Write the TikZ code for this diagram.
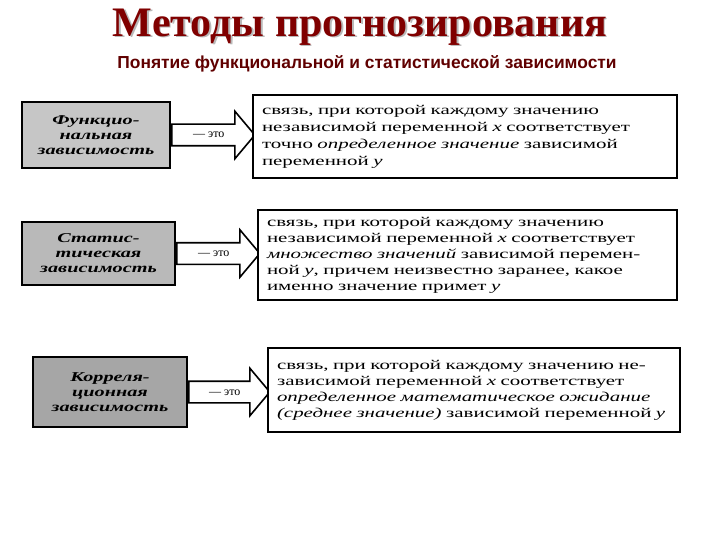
\documentclass[tikz,border=0pt]{standalone}
\usepackage{fontspec}
\usepackage{tikz}
\usetikzlibrary{shapes.arrows}
\setmainfont{Liberation Serif}
\newfontfamily\subfont{Liberation Sans}
\newfontfamily\boxfont[FakeStretch=1.55]{Liberation Serif}
\newfontfamily\kindfont[FakeStretch=1.5]{Liberation Serif}
\definecolor{titlered}{RGB}{128,0,0}
\definecolor{subred}{RGB}{96,0,0}
\tikzset{
  kindbox/.style={draw=black,line width=2pt,align=center,inner sep=0pt,
    font=\kindfont\bfseries\itshape\fontsize{13.5}{15}\selectfont},
  defbox/.style={draw=black,line width=1.4pt,fill=white,align=left,inner xsep=9pt,
    font=\boxfont\fontsize{13.5}{16}\selectfont},
  etoarrow/.style={single arrow,draw=black,line width=1.6pt,fill=white,anchor=west,
    single arrow head extend=13pt,single arrow tip angle=100,
    inner xsep=2pt,inner ysep=7pt,text height=6pt,text depth=0pt,
    font=\fontsize{12}{12}\selectfont}
}
\begin{document}
\begin{tikzpicture}[x=1pt,y=1pt]
\useasboundingbox (0,0) rectangle (720,-540);
% heading:
\node[text=gray!55,font=\bfseries\fontsize{42}{42}\selectfont] (titleshadow) at (361.5,-28.5) {Методы прогнозирования};
\node[text=titlered,font=\bfseries\fontsize{42}{42}\selectfont] (title) at (360,-27) {Методы прогнозирования};
\node[text=subred,font=\subfont\bfseries\fontsize{17.4}{17.4}\selectfont] (subtitle) at (367,-64) {Понятие функциональной и статистической зависимости};
% kinds of dependence:
\node[kindbox,fill=gray!45,minimum width=148pt,minimum height=66pt] (func) at (96,-135) {Функцио-\\нальная\\зависимость};
\node[kindbox,fill=gray!55,minimum width=153pt,minimum height=63pt] (stat) at (98.5,-253.5) {Статис-\\тическая\\зависимость};
\node[kindbox,fill=gray!70,minimum width=154pt,minimum height=70pt] (corr) at (110,-392) {Корреля-\\ционная\\зависимость};
% arrows:
\node[etoarrow,minimum height=83pt] (funcarrow) at (func.east) {— это};
\node[etoarrow,minimum height=83pt] (statarrow) at (stat.east) {— это};
\node[etoarrow,minimum height=81pt] (corrarrow) at (corr.east) {— это};
% definitions:
\node[defbox,text width=406pt,minimum height=83pt,font=\boxfont\fontsize{13.5}{17}\selectfont] (funcdef) at (465,-136.5) {связь, при которой каждому значению\\
независимой переменной \textit{x} соответствует\\
точно \textit{определенное значение} зависимой\\
переменной \textit{y}};
\node[defbox,text width=401pt,minimum height=90pt] (statdef) at (467.5,-255) {связь, при которой каждому значению\\
независимой переменной \textit{x} соответствует\\
\textit{множество значений} зависимой перемен-\\
ной \textit{y}, причем неизвестно заранее, какое\\
именно значение примет \textit{y}};
\node[defbox,text width=394pt,minimum height=84pt] (corrdef) at (474,-390) {связь, при которой каждому значению не-\\
зависимой переменной \textit{x} соответствует\\
\textit{определенное математическое ожидание}\\
\textit{(среднее значение)} зависимой переменной \textit{y}};
\end{tikzpicture}
\end{document}
